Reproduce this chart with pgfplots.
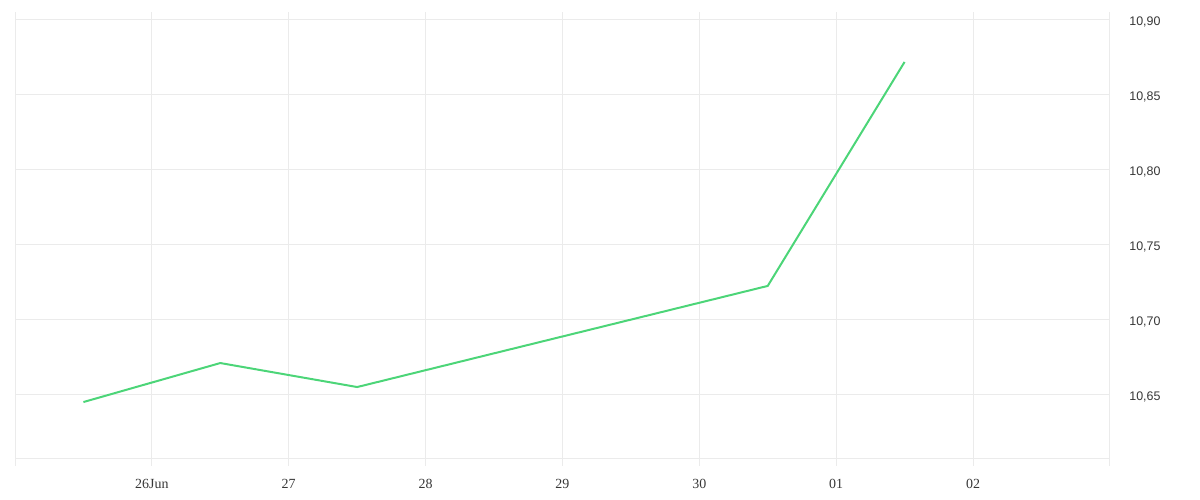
\documentclass[border=0pt]{standalone}
\usepackage{pgfplots}
\pgfplotsset{compat=1.18}
\usepackage{fontspec}
\setmainfont{Liberation Serif}
\newfontfamily\ysans{Liberation Sans}
\definecolor{gridgray}{RGB}{235,235,235}
\definecolor{linegreen}{RGB}{76,213,120}
\definecolor{labelgray}{RGB}{55,55,55}
\begin{document}
\begin{tikzpicture}
\useasboundingbox (-15bp,-42bp) rectangle (1185bp,458bp);
\begin{axis}[
  at={(0,0)}, anchor=south west,
  scale only axis, width=1095bp, height=446bp,
  xmin=25, xmax=33, ymin=10.608, ymax=10.9053,
  axis line style={draw=none},
  clip=false,
  xtick={25,26,27,28,29,30,31,32,33},
  xticklabels={,26Jun,27,28,29,30,01,02,},
  xtick pos=bottom,
  ytick={10.65,10.70,10.75,10.80,10.85,10.90},
  yticklabel pos=right,
  grid=major,
  grid style={gridgray, line width=1bp},
  tick align=outside,
  major tick length=8bp,
  xtick style={gridgray, line width=1bp},
  ytick style={draw=none},
  xticklabel style={font=\fontsize{14}{16}\selectfont, text=labelgray, yshift=-10bp},
  yticklabel style={font=\ysans\fontsize{12.5}{14}\selectfont, text=labelgray, anchor=west, xshift=8bp, yshift=-2bp},
  /pgf/number format/assume math mode=true,
  /pgf/number format/.cd, fixed, fixed zerofill, precision=2, use comma,
]
\draw[gridgray, line width=1bp] (rel axis cs:0,0) -- (rel axis cs:1,0);
\addplot[linegreen, line width=2bp, mark=none] coordinates {
  (25.5,10.6453)
  (26.5,10.6713)
  (27.5,10.6553)
  (30.5,10.7227)
  (31.5,10.8720)
};
\end{axis}
\end{tikzpicture}
\end{document}
